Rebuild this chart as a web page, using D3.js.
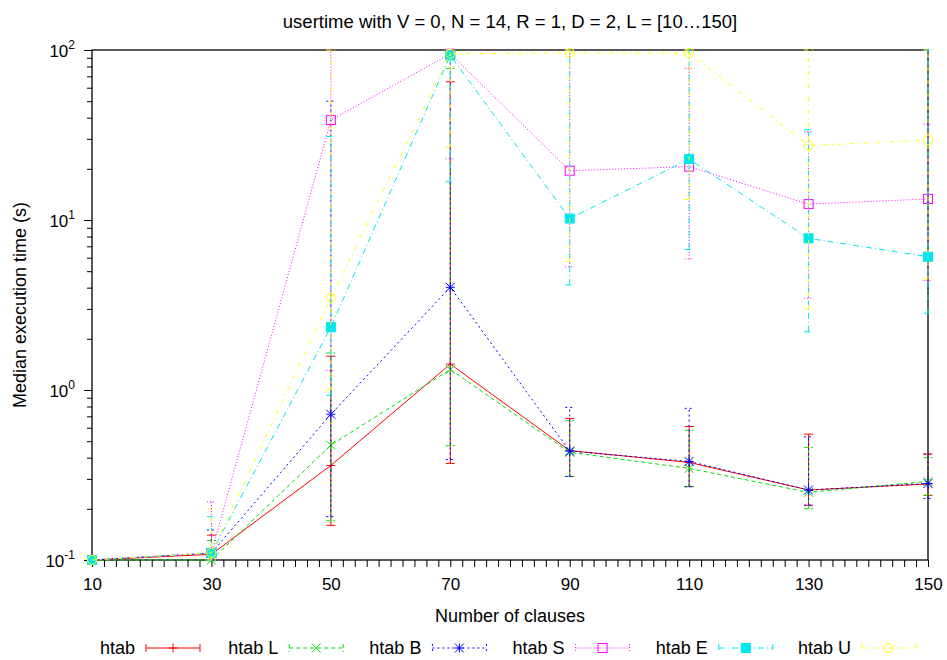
<!DOCTYPE html>
<html>
<head>
<meta charset="utf-8">
<script src="https://cdn.jsdelivr.net/npm/d3@7"></script>
<style>
  body { margin: 0; background: #fff; }
  svg { display: block; font-family: "Liberation Sans", Arial, sans-serif; }
</style>
</head>
<body>
<svg id="chart" width="947" height="660"></svg>
<script>
const clauses = [10, 30, 50, 70, 90, 110, 130, 150];
const seriesNames = ["htab", "htab L", "htab B", "htab S", "htab E", "htab U"];

const htabMed = [0.1, 0.108, 0.36, 1.42, 0.44, 0.375, 0.258, 0.28];
const htabLo  = [0.1, 0.1, 0.16, 0.37, 0.31, 0.27, 0.21, 0.24];
const htabHi  = [0.1, 0.14, 1.58, 65, 0.68, 0.61, 0.55, 0.42];

const htabLMed = [0.1, 0.1, 0.474, 1.32, 0.43, 0.346, 0.25, 0.29];
const htabLLo  = [0.1, 0.099, 0.17, 0.47, 0.31, 0.27, 0.2, 0.24];
const htabLHi  = [0.1, 0.13, 1.65, 78, 0.66, 0.58, 0.46, 0.40];

const htabBMed = [0.1, 0.11, 0.72, 4.02, 0.437, 0.38, 0.258, 0.282];
const htabBLo  = [0.1, 0.1, 0.18, 0.39, 0.31, 0.27, 0.21, 0.23];
const htabBHi  = [0.1, 0.15, 50, 100, 0.79, 0.78, 0.53, 0.42];

const htabSMed = [0.1, 0.11, 38.7, 95, 19.5, 20.6, 12.4, 13.3];
const htabSLo  = [0.1, 0.1, 1.3, 22.9, 5.3, 5.9, 3.47, 4.4];
const htabSHi  = [0.1, 0.22, 100, 100, 100, 78, 33, 36.6];

const htabEMed = [0.1, 0.11, 2.34, 93, 10.2, 22.8, 7.8, 6.08];
const htabELo  = [0.1, 0.1, 0.93, 16.8, 4.15, 6.7, 2.2, 2.83];
const htabEHi  = [0.1, 0.18, 31, 100, 100, 100, 34, 100];

const htabUMed = [0.1, 0.11, 3.49, 95, 96, 96, 27.4, 29.5];
const htabULo  = [0.1, 0.1, 1.0, 26.8, 5.7, 13.2, 3.0, 4.5];
const htabUHi  = [0.1, 0.2, 100, 100, 100, 100, 100, 100];

const xTickValues = [10, 30, 50, 70, 90, 110, 130, 150];
const yTickExponents = [-1, 0, 1, 2];

const titleText = "usertime with V = 0, N = 14, R = 1, D = 2, L = [10\u2026150]";
const xLabel = "Number of clauses";
const yLabel = "Median execution time (s)";

const styles = [
  { color: "#ff0000", dash: null,        marker: "plus" },
  { color: "#00e000", dash: "4,3",       marker: "cross" },
  { color: "#0000ff", dash: "2,3",       marker: "star" },
  { color: "#ff00ff", dash: "1,2",       marker: "square" },
  { color: "#00e5ee", dash: "6,3,1,3",   marker: "fsquare" },
  { color: "#ffff00", dash: "4,4,1,4",   marker: "circle" }
];

const series = [
  [htabMed, htabLo, htabHi],
  [htabLMed, htabLLo, htabLHi],
  [htabBMed, htabBLo, htabBHi],
  [htabSMed, htabSLo, htabSHi],
  [htabEMed, htabELo, htabEHi],
  [htabUMed, htabULo, htabUHi]
].map((s, i) => ({
  name: seriesNames[i],
  style: styles[i],
  points: clauses.map((c, j) => ({ x: c, y: s[0][j], lo: s[1][j], hi: s[2][j] }))
}));

const svg = d3.select("#chart");
const pL = 92, pR = 928, pT = 50, pB = 560;

const x = d3.scaleLinear().domain([10, 150]).range([pL, pR]);
const y = d3.scaleLog().domain([0.1, 100]).range([pB, pT]);

// Title
svg.append("text").attr("x", (pL + pR) / 2).attr("y", 28)
  .attr("text-anchor", "middle").attr("font-size", 18.5).text(titleText);

// Axes
const xAxis = d3.axisBottom(x).tickValues(d3.range(10, 151, 2))
  .tickSize(7).tickFormat(d => xTickValues.includes(d) ? d : "");
const gx = svg.append("g").attr("transform", `translate(0,${pB})`).call(xAxis);
gx.select(".domain").remove();
gx.selectAll("line").attr("stroke", "#000");
gx.selectAll("text").attr("font-size", 17).attr("y", 30).attr("dy", 0).attr("fill", "#000")
  .attr("font-family", "Liberation Sans, Arial, sans-serif");

const minorY = [];
for (let e = -1; e < 2; e++) for (let m = 2; m <= 9; m++) minorY.push(m * Math.pow(10, e));
const gyMinor = svg.append("g").attr("transform", `translate(${pL},0)`)
  .call(d3.axisLeft(y).tickValues(minorY).tickSize(5).tickFormat(""));
gyMinor.select(".domain").remove();
const gy = svg.append("g").attr("transform", `translate(${pL},0)`)
  .call(d3.axisLeft(y).tickValues(yTickExponents.map(e => Math.pow(10, e))).tickSize(8).tickFormat(""));
gy.select(".domain").remove();

yTickExponents.forEach(e => {
  const t = svg.append("text").attr("x", 75).attr("y", y(Math.pow(10, e)) + 7)
    .attr("text-anchor", "end").attr("font-size", 17);
  t.append("tspan").text("10");
  t.append("tspan").attr("dy", -8).attr("font-size", 12).text(e);
});

// Border
svg.append("rect").attr("x", pL).attr("y", pT).attr("width", pR - pL)
  .attr("height", pB - pT).attr("fill", "none").attr("stroke", "#000").attr("stroke-width", 1.3);

// Axis labels
svg.append("text").attr("x", (pL + pR) / 2).attr("y", 622)
  .attr("text-anchor", "middle").attr("font-size", 18).text(xLabel);
svg.append("text").attr("transform", `translate(26,${(pT + pB) / 2}) rotate(-90)`)
  .attr("text-anchor", "middle").attr("font-size", 18).text(yLabel);

function drawMarker(g, type, cx, cy, color) {
  const s = 4.5;
  if (type === "plus") {
    g.append("path").attr("d", `M${cx - s},${cy}H${cx + s}M${cx},${cy - s}V${cy + s}`)
      .attr("stroke", color).attr("fill", "none");
  } else if (type === "cross") {
    g.append("path").attr("d", `M${cx - s},${cy - s}L${cx + s},${cy + s}M${cx - s},${cy + s}L${cx + s},${cy - s}`)
      .attr("stroke", color).attr("fill", "none");
  } else if (type === "star") {
    g.append("path").attr("d", `M${cx - s},${cy}H${cx + s}M${cx},${cy - s}V${cy + s}M${cx - s},${cy - s}L${cx + s},${cy + s}M${cx - s},${cy + s}L${cx + s},${cy - s}`)
      .attr("stroke", color).attr("fill", "none");
  } else if (type === "square") {
    g.append("rect").attr("x", cx - s).attr("y", cy - s).attr("width", 2 * s).attr("height", 2 * s)
      .attr("stroke", color).attr("fill", "none");
  } else if (type === "fsquare") {
    g.append("rect").attr("x", cx - s).attr("y", cy - s).attr("width", 2 * s).attr("height", 2 * s)
      .attr("stroke", color).attr("fill", color);
  } else if (type === "circle") {
    g.append("circle").attr("cx", cx).attr("cy", cy).attr("r", s)
      .attr("stroke", color).attr("fill", "none");
  }
}

const line = d3.line().x(d => x(d.x)).y(d => y(d.y));
const cap = 4.5;

series.forEach(s => {
  const g = svg.append("g");
  const c = s.style.color;
  s.points.forEach(p => {
    if (p.hi === p.lo) return;
    g.append("path")
      .attr("d", `M${x(p.x)},${y(p.lo)}V${y(p.hi)}M${x(p.x) - cap},${y(p.lo)}H${x(p.x) + cap}M${x(p.x) - cap},${y(p.hi)}H${x(p.x) + cap}`)
      .attr("stroke", c).attr("fill", "none").attr("stroke-width", 1)
      .attr("stroke-dasharray", s.style.dash);
  });
  g.append("path").datum(s.points).attr("d", line)
    .attr("stroke", c).attr("fill", "none").attr("stroke-width", 1)
    .attr("stroke-dasharray", s.style.dash);
  s.points.forEach(p => drawMarker(g, s.style.marker, x(p.x), y(p.y), c));
});

// Legend
const legendY = 648;
series.forEach((s, i) => {
  const sx = 146 + i * 143.2;
  const g = svg.append("g");
  g.append("text").attr("x", sx - 11).attr("y", legendY + 6).attr("text-anchor", "end")
    .attr("font-size", 18).text(s.name);
  g.append("path").attr("d", `M${sx},${legendY}H${sx + 54}M${sx},${legendY - 4}V${legendY + 4}M${sx + 54},${legendY - 4}V${legendY + 4}`)
    .attr("stroke", s.style.color).attr("fill", "none").attr("stroke-dasharray", s.style.dash);
  drawMarker(g, s.style.marker, sx + 27, legendY, s.style.color);
});
</script>
</body>
</html>
